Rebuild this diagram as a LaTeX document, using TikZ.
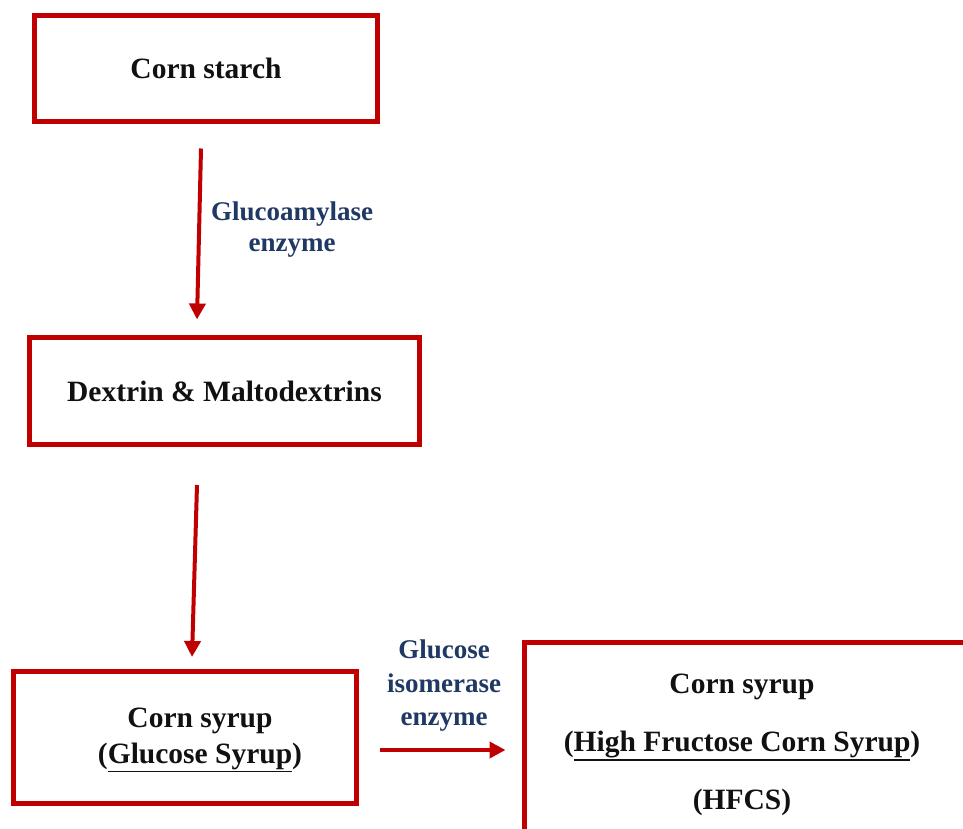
\documentclass[tikz,border=0pt]{standalone}
\usepackage{fontspec}
\setmainfont{Liberation Serif}
\usetikzlibrary{arrows.meta}
\definecolor{boxred}{HTML}{C00000}
\definecolor{navy}{HTML}{1F3864}
\definecolor{textblack}{HTML}{111111}
\newcommand\myul[1]{\leavevmode\vtop{\hbox{#1}\kern1.2pt\hrule height 1.8pt}}
\begin{document}
\begin{tikzpicture}[x=1pt,y=-1pt,
  box/.style={draw=boxred,line width=5pt,inner sep=0pt,outer sep=0pt},
  maintext/.style={text=textblack,font=\fontsize{29.5}{36}\selectfont\bfseries,align=center,inner sep=0pt},
  enzlabel/.style={text=navy,font=\fontsize{27}{31}\selectfont\bfseries,align=center,inner sep=0pt},
  arr/.style={draw=boxred,line width=4pt,-{Triangle[length=16pt,width=16pt]}}]
\useasboundingbox (0,0) rectangle (963,829);

\node[box,maintext,minimum width=343pt,minimum height=106pt] (b1) at (206,68.5) {Corn starch};
\node[box,maintext,minimum width=390pt,minimum height=107pt] (b2) at (224.5,391) {Dextrin \& Maltodextrins};
\node[box,minimum width=343pt,minimum height=132pt] (b3) at (185,737.5) {};
\node[maintext] (t3) at (200,740) {Corn syrup\\(\myul{Glucose Syrup})};
\node[box,anchor=north west,minimum width=460pt,minimum height=210pt] (b4) at (524.5,642.5) {};
\node[maintext,font=\fontsize{29.5}{58}\selectfont\bfseries] (t4) at (742,745) {Corn syrup\\(\myul{High Fructose Corn Syrup})\\(HFCS)};

\node[enzlabel] (l1) at (292,230) {Glucoamylase\\enzyme};
\node[enzlabel,font=\fontsize{27}{33.5}\selectfont\bfseries] (l2) at (444,686) {Glucose\\isomerase\\enzyme};

\draw[arr] ([shift={(-5,27)}]b1.south) -- ([shift={(-27.5,-18)}]b2.north);
\draw[arr] ([shift={(-27.5,40.5)}]b2.south) -- ([shift={(7,-14.5)}]b3.north);
\draw[arr] ([shift={(23.5,12.5)}]b3.east) -- ([shift={(-19,2.5)}]b4.west);
\end{tikzpicture}
\end{document}
